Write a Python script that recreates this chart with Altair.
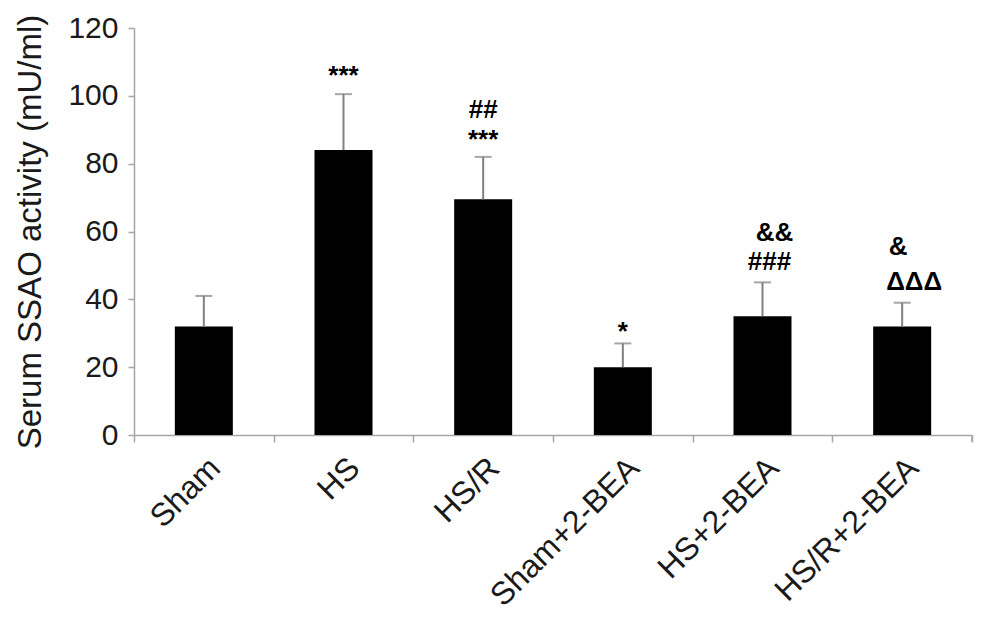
import altair as alt
import pandas as pd

groups = ["Sham", "HS", "HS/R", "Sham+2-BEA", "HS+2-BEA", "HS/R+2-BEA"]
means = [32, 84, 69.5, 20, 35, 32]
uppers = [41, 100.5, 82, 27, 45, 39]

# annotations: group, label, y (data units, text baseline)
ann_groups = ["HS", "HS/R", "HS/R", "Sham+2-BEA", "HS+2-BEA", "HS+2-BEA", "HS/R+2-BEA", "HS/R+2-BEA"]
ann_labels = ["***", "##", "***", "*", "&&", "###", "&", "ΔΔΔ"]
ann_y = [103.5, 93.5, 84.7, 28, 57.2, 48.7, 53, 42.8]
ann_shift = ["c", "c", "c", "c", "r", "m", "l", "r"]

df = pd.DataFrame({"group": groups, "mean": means, "upper": uppers})
adf = pd.DataFrame({"group": ann_groups, "label": ann_labels, "y": ann_y, "shift": ann_shift})

FONT = "Liberation Sans"
W, H = 838, 407

xenc = alt.X(
    "group:N",
    sort=groups,
    scale=alt.Scale(paddingInner=0, paddingOuter=0),
    axis=alt.Axis(
        title=None,
        labelAngle=-45,
        labelFontSize=32,
        labelFont=FONT,
        labelColor="#1a1a1a",
        labelPadding=10,
        labelLimit=0,
        tickBand="extent",
        tickSize=7,
        tickColor="#a6a6a6",
        domainColor="#a6a6a6",
        domainWidth=1.5,
        tickWidth=1.5,
    ),
)

yscale = alt.Scale(domain=[0, 120], nice=False)

bars = alt.Chart(df).mark_bar(width=58, color="black").encode(
    x=xenc,
    y=alt.Y(
        "mean:Q",
        scale=yscale,
        axis=alt.Axis(
            title="Serum SSAO activity (mU/ml)",
            titleFont=FONT,
            titleFontSize=33,
            titleFontWeight="normal",
            titleColor="#1a1a1a",
            titlePadding=20,
            values=[0, 20, 40, 60, 80, 100, 120],
            labelFont=FONT,
            labelFontSize=30,
            labelColor="#1a1a1a",
            labelPadding=10,
            tickSize=6,
            tickColor="#a6a6a6",
            domainColor="#a6a6a6",
            domainWidth=1.5,
            tickWidth=1.5,
            grid=False,
        ),
    ),
)

err = alt.Chart(df).mark_rule(color="#808080", strokeWidth=2).encode(
    x=alt.X("group:N", sort=groups),
    y=alt.Y("mean:Q", scale=yscale),
    y2="upper:Q",
)

cap = alt.Chart(df).mark_tick(color="#808080", thickness=2, size=17).encode(
    x=alt.X("group:N", sort=groups),
    y=alt.Y("upper:Q", scale=yscale),
)

def txt(shift, dx):
    return alt.Chart(adf).transform_filter(alt.datum.shift == shift).mark_text(
        font=FONT, fontSize=26, fontWeight="bold", color="black",
        baseline="alphabetic", dx=dx,
    ).encode(
        x=alt.X("group:N", sort=groups),
        y=alt.Y("y:Q", scale=yscale),
        text="label:N",
    )

endtick = alt.Chart(df.head(1)).mark_rule(color="#a6a6a6", strokeWidth=1.5).encode(
    x=alt.value(W), y=alt.value(H), y2=alt.value(H + 7)
)

chart = alt.layer(
    bars, err, cap, txt("c", 0), txt("r", 12), txt("m", 7), txt("l", -4), endtick
).properties(
    width=W,
    height=H,
    background="white",
    autosize=alt.AutoSizeParams(type="none"),
    padding={"left": 126, "top": 20, "right": 5, "bottom": 179},
).configure_view(stroke=None)

chart.save("out.html", embed_options={"renderer": "svg", "actions": False})
